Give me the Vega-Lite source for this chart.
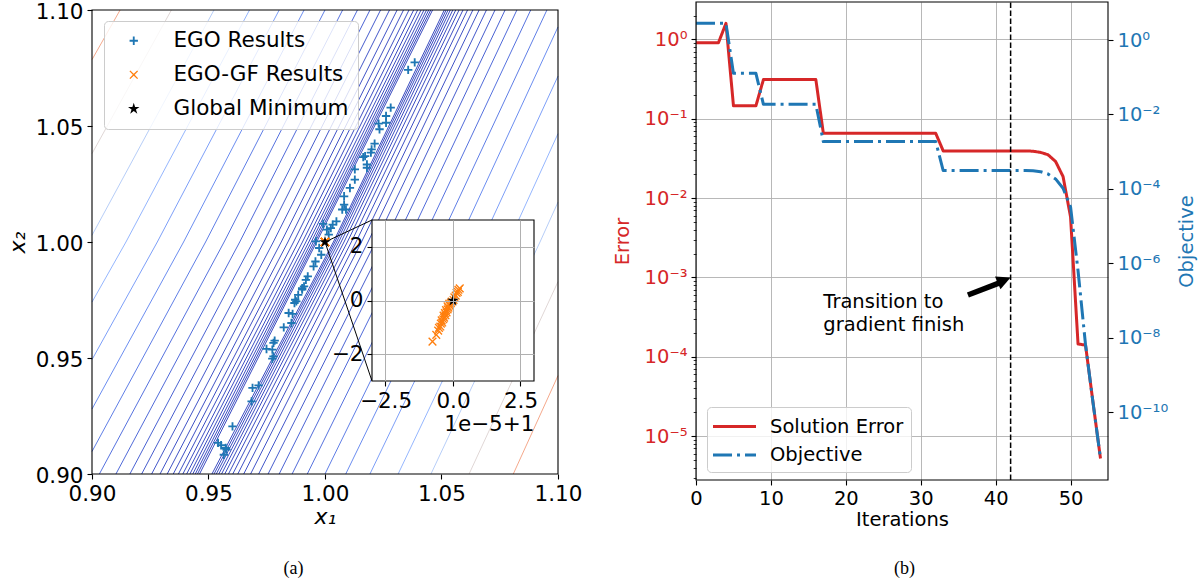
{
"$schema": "https://vega.github.io/schema/vega-lite/v6.json",
"width": 1201, "height": 585, "autosize": "none", "padding": 0, "background": "white",
"config": {
  "view": {"stroke": null},
  "font": "DejaVu Sans",
  "axis": {"domain": false, "grid": false, "tickColor": "#000", "tickWidth": 1.1, "tickSize": 5, "labelColor": "#000", "labelFont": "DejaVu Sans", "titleFont": "DejaVu Sans", "titleFontWeight": "normal", "titleColor": "#000", "labelPadding": 4, "labelFlush": false, "labelOverlap": false, "labelBound": false},
  "legend": {"labelFont": "DejaVu Sans", "labelColor": "#000", "labelLimit": 0}
},
"datasets": {
  "contours": [
    {"c":"L6","f":7.1969,"x":0.9,"y":1.0786},{"c":"L6","f":7.1969,"x":0.91207,"y":1.1},
    {"c":"L5","f":5.1795,"x":0.9,"y":1.0381},{"c":"L5","f":5.1795,"x":0.93408,"y":1.1},
    {"c":"L4","f":3.7276,"x":0.9,"y":1.0029},{"c":"L4","f":3.7276,"x":0.95236,"y":1.1},
    {"c":"L3","f":2.6827,"x":0.9,"y":0.9741},{"c":"L3","f":2.6827,"x":0.91457,"y":1.0},{"c":"L3","f":2.6827,"x":0.9676,"y":1.1},
    {"c":"L2","f":1.9307,"x":0.9,"y":0.9493},{"c":"L2","f":1.9307,"x":0.92803,"y":1.0},{"c":"L2","f":1.9307,"x":0.98034,"y":1.1},
    {"c":"L1","f":1.3895,"x":0.9,"y":0.928},{"c":"L1","f":1.3895,"x":0.9393,"y":1.0},{"c":"L1","f":1.3895,"x":0.99102,"y":1.1},
    {"c":"L0","f":1.0,"x":0.9,"y":0.9097},{"c":"L0","f":1.0,"x":0.94875,"y":1.0},{"c":"L0","f":1.0,"x":1.0,"y":1.1},
    {"c":"Lm1","f":0.7197,"x":0.90317,"y":0.9},{"c":"Lm1","f":0.7197,"x":0.9567,"y":1.0},{"c":"Lm1","f":0.7197,"x":1.00756,"y":1.1},
    {"c":"Lm2","f":0.5179,"x":0.91027,"y":0.9},{"c":"Lm2","f":0.5179,"x":0.96339,"y":1.0},{"c":"Lm2","f":0.5179,"x":1.01393,"y":1.1},
    {"c":"Lm3","f":0.3728,"x":0.91626,"y":0.9},{"c":"Lm3","f":0.3728,"x":0.96904,"y":1.0},{"c":"Lm3","f":0.3728,"x":1.0193,"y":1.1},
    {"c":"Lm4","f":0.2683,"x":0.92131,"y":0.9},{"c":"Lm4","f":0.2683,"x":0.97379,"y":1.0},{"c":"Lm4","f":0.2683,"x":1.02385,"y":1.1},
    {"c":"Lm5","f":0.1931,"x":0.92559,"y":0.9},{"c":"Lm5","f":0.1931,"x":0.97781,"y":1.0},{"c":"Lm5","f":0.1931,"x":1.02769,"y":1.1},
    {"c":"Lm6","f":0.1389,"x":0.9292,"y":0.9},{"c":"Lm6","f":0.1389,"x":0.98121,"y":1.0},{"c":"Lm6","f":0.1389,"x":1.03095,"y":1.1},
    {"c":"Lm7","f":0.1,"x":0.93227,"y":0.9},{"c":"Lm7","f":0.1,"x":0.98408,"y":1.0},{"c":"Lm7","f":0.1,"x":1.03371,"y":1.1},
    {"c":"Lm8","f":0.072,"x":0.93487,"y":0.9},{"c":"Lm8","f":0.072,"x":0.98651,"y":1.0},{"c":"Lm8","f":0.072,"x":1.03606,"y":1.1},
    {"c":"Lm9","f":0.0518,"x":0.93709,"y":0.9},{"c":"Lm9","f":0.0518,"x":0.98857,"y":1.0},{"c":"Lm9","f":0.0518,"x":1.03806,"y":1.1},
    {"c":"Lm10","f":0.0373,"x":0.93899,"y":0.9},{"c":"Lm10","f":0.0373,"x":0.99031,"y":1.0},{"c":"Lm10","f":0.0373,"x":1.03976,"y":1.1},
    {"c":"Lm11","f":0.0268,"x":0.94062,"y":0.9},{"c":"Lm11","f":0.0268,"x":0.99179,"y":1.0},{"c":"Lm11","f":0.0268,"x":1.04122,"y":1.1},
    {"c":"Lm12","f":0.0193,"x":0.94202,"y":0.9},{"c":"Lm12","f":0.0193,"x":0.99303,"y":1.0},{"c":"Lm12","f":0.0193,"x":1.04248,"y":1.1},
    {"c":"Lm13","f":0.0139,"x":0.94325,"y":0.9},{"c":"Lm13","f":0.0139,"x":0.99409,"y":1.0},{"c":"Lm13","f":0.0139,"x":1.04357,"y":1.1},
    {"c":"Lm14","f":0.01,"x":0.94433,"y":0.9},{"c":"Lm14","f":0.01,"x":0.99499,"y":1.0},{"c":"Lm14","f":0.01,"x":1.04452,"y":1.1},
    {"c":"Lm15","f":0.0072,"x":0.94527,"y":0.9},{"c":"Lm15","f":0.0072,"x":0.99575,"y":1.0},{"c":"Lm15","f":0.0072,"x":1.04538,"y":1.1},
    {"c":"Lm16","f":0.0052,"x":0.94616,"y":0.9},{"c":"Lm16","f":0.0052,"x":0.9964,"y":1.0},{"c":"Lm16","f":0.0052,"x":1.04617,"y":1.1},
    {"c":"R6","f":7.1969,"x":1.08081,"y":0.9},{"c":"R6","f":7.1969,"x":1.1,"y":0.9424},
    {"c":"R5","f":5.1795,"x":1.06184,"y":0.9},{"c":"R5","f":5.1795,"x":1.1,"y":0.9829},
    {"c":"R4","f":3.7276,"x":1.04548,"y":0.9},{"c":"R4","f":3.7276,"x":1.09228,"y":1.0},{"c":"R4","f":3.7276,"x":1.1,"y":1.0172},
    {"c":"R3","f":2.6827,"x":1.03138,"y":0.9},{"c":"R3","f":2.6827,"x":1.07879,"y":1.0},{"c":"R3","f":2.6827,"x":1.1,"y":1.0467},
    {"c":"R2","f":1.9307,"x":1.01929,"y":0.9},{"c":"R2","f":1.9307,"x":1.06722,"y":1.0},{"c":"R2","f":1.9307,"x":1.1,"y":1.0715},
    {"c":"R1","f":1.3895,"x":1.0089,"y":0.9},{"c":"R1","f":1.3895,"x":1.0573,"y":1.0},{"c":"R1","f":1.3895,"x":1.1,"y":1.0927},
    {"c":"R0","f":1.0,"x":1.0,"y":0.9},{"c":"R0","f":1.0,"x":1.04875,"y":1.0},{"c":"R0","f":1.0,"x":1.09524,"y":1.1},
    {"c":"Rm1","f":0.7197,"x":0.99239,"y":0.9},{"c":"Rm1","f":0.7197,"x":1.04151,"y":1.0},{"c":"Rm1","f":0.7197,"x":1.08829,"y":1.1},
    {"c":"Rm2","f":0.5179,"x":0.98588,"y":0.9},{"c":"Rm2","f":0.5179,"x":1.03532,"y":1.0},{"c":"Rm2","f":0.5179,"x":1.08236,"y":1.1},
    {"c":"Rm3","f":0.3728,"x":0.98033,"y":0.9},{"c":"Rm3","f":0.3728,"x":1.03004,"y":1.0},{"c":"Rm3","f":0.3728,"x":1.07729,"y":1.1},
    {"c":"Rm4","f":0.2683,"x":0.97557,"y":0.9},{"c":"Rm4","f":0.2683,"x":1.02554,"y":1.0},{"c":"Rm4","f":0.2683,"x":1.07297,"y":1.1},
    {"c":"Rm5","f":0.1931,"x":0.97152,"y":0.9},{"c":"Rm5","f":0.1931,"x":1.02171,"y":1.0},{"c":"Rm5","f":0.1931,"x":1.06929,"y":1.1},
    {"c":"Rm6","f":0.1389,"x":0.96806,"y":0.9},{"c":"Rm6","f":0.1389,"x":1.01845,"y":1.0},{"c":"Rm6","f":0.1389,"x":1.06615,"y":1.1},
    {"c":"Rm7","f":0.1,"x":0.96511,"y":0.9},{"c":"Rm7","f":0.1,"x":1.01567,"y":1.0},{"c":"Rm7","f":0.1,"x":1.06347,"y":1.1},
    {"c":"Rm8","f":0.072,"x":0.96258,"y":0.9},{"c":"Rm8","f":0.072,"x":1.01331,"y":1.0},{"c":"Rm8","f":0.072,"x":1.06118,"y":1.1},
    {"c":"Rm9","f":0.0518,"x":0.96042,"y":0.9},{"c":"Rm9","f":0.0518,"x":1.0113,"y":1.0},{"c":"Rm9","f":0.0518,"x":1.05923,"y":1.1},
    {"c":"Rm10","f":0.0373,"x":0.95857,"y":0.9},{"c":"Rm10","f":0.0373,"x":1.0096,"y":1.0},{"c":"Rm10","f":0.0373,"x":1.05755,"y":1.1},
    {"c":"Rm11","f":0.0268,"x":0.95698,"y":0.9},{"c":"Rm11","f":0.0268,"x":1.00815,"y":1.0},{"c":"Rm11","f":0.0268,"x":1.05611,"y":1.1},
    {"c":"Rm12","f":0.0193,"x":0.9556,"y":0.9},{"c":"Rm12","f":0.0193,"x":1.00692,"y":1.0},{"c":"Rm12","f":0.0193,"x":1.05486,"y":1.1},
    {"c":"Rm13","f":0.0139,"x":0.95441,"y":0.9},{"c":"Rm13","f":0.0139,"x":1.00588,"y":1.0},{"c":"Rm13","f":0.0139,"x":1.05378,"y":1.1},
    {"c":"Rm14","f":0.01,"x":0.95335,"y":0.9},{"c":"Rm14","f":0.01,"x":1.00499,"y":1.0},{"c":"Rm14","f":0.01,"x":1.05283,"y":1.1},
    {"c":"Rm15","f":0.0072,"x":0.95238,"y":0.9},{"c":"Rm15","f":0.0072,"x":1.00423,"y":1.0},{"c":"Rm15","f":0.0072,"x":1.05199,"y":1.1},
    {"c":"Rm16","f":0.0052,"x":0.95147,"y":0.9},{"c":"Rm16","f":0.0052,"x":1.0036,"y":1.0},{"c":"Rm16","f":0.0052,"x":1.05121,"y":1.1}
  ],
  "pts": [
    {"s":"EGO Results","x":1.0385,"y":1.0774},{"s":"EGO Results","x":1.0357,"y":1.0742},{"s":"EGO Results","x":1.0282,"y":1.0579},
    {"s":"EGO Results","x":1.0262,"y":1.0543},{"s":"EGO Results","x":1.0262,"y":1.0514},{"s":"EGO Results","x":1.023,"y":1.051},
    {"s":"EGO Results","x":1.0234,"y":1.0486},{"s":"EGO Results","x":1.0213,"y":1.0424},{"s":"EGO Results","x":1.02,"y":1.0399},
    {"s":"EGO Results","x":1.0197,"y":1.0385},{"s":"EGO Results","x":1.0172,"y":1.037},{"s":"EGO Results","x":1.0164,"y":1.0366},
    {"s":"EGO Results","x":1.018,"y":1.0334},{"s":"EGO Results","x":1.018,"y":1.032},{"s":"EGO Results","x":1.0128,"y":1.0313},
    {"s":"EGO Results","x":1.0128,"y":1.0269},{"s":"EGO Results","x":1.0107,"y":1.0233},{"s":"EGO Results","x":1.0082,"y":1.0197},
    {"s":"EGO Results","x":1.0082,"y":1.0161},{"s":"EGO Results","x":1.009,"y":1.014},{"s":"EGO Results","x":1.0074,"y":1.014},
    {"s":"EGO Results","x":1.0049,"y":1.0089},{"s":"EGO Results","x":1.0033,"y":1.0075},{"s":"EGO Results","x":1.0025,"y":1.006},
    {"s":"EGO Results","x":1.0008,"y":1.0053},{"s":"EGO Results","x":0.9992,"y":1.0078},{"s":"EGO Results","x":1.0016,"y":1.0032},
    {"s":"EGO Results","x":0.9961,"y":1.0003},{"s":"EGO Results","x":0.9975,"y":0.9974},{"s":"EGO Results","x":0.9984,"y":0.9945},
    {"s":"EGO Results","x":0.9959,"y":0.9916},{"s":"EGO Results","x":0.9951,"y":0.9895},{"s":"EGO Results","x":0.9926,"y":0.9852},
    {"s":"EGO Results","x":0.9918,"y":0.9837},{"s":"EGO Results","x":0.9902,"y":0.9801},{"s":"EGO Results","x":0.9885,"y":0.9772},
    {"s":"EGO Results","x":0.991,"y":0.9809},{"s":"EGO Results","x":0.9902,"y":0.9795},{"s":"EGO Results","x":0.9872,"y":0.9751},
    {"s":"EGO Results","x":0.9877,"y":0.9744},{"s":"EGO Results","x":0.9869,"y":0.9737},{"s":"EGO Results","x":0.9844,"y":0.9694},
    {"s":"EGO Results","x":0.9861,"y":0.969},{"s":"EGO Results","x":0.9856,"y":0.9651},{"s":"EGO Results","x":0.9823,"y":0.9632},
    {"s":"EGO Results","x":0.9784,"y":0.9575},{"s":"EGO Results","x":0.9779,"y":0.9565},{"s":"EGO Results","x":0.9749,"y":0.9539},
    {"s":"EGO Results","x":0.9774,"y":0.9536},{"s":"EGO Results","x":0.9779,"y":0.9507},{"s":"EGO Results","x":0.9774,"y":0.9497},
    {"s":"EGO Results","x":0.9715,"y":0.9382},{"s":"EGO Results","x":0.9689,"y":0.9371},{"s":"EGO Results","x":0.9685,"y":0.9313},
    {"s":"EGO Results","x":0.9603,"y":0.9205},{"s":"EGO Results","x":0.9541,"y":0.9134},{"s":"EGO Results","x":0.9554,"y":0.9124},
    {"s":"EGO Results","x":0.9574,"y":0.9112},{"s":"EGO Results","x":0.9577,"y":0.9105},{"s":"EGO Results","x":0.9566,"y":0.9083},
    {"s":"EGO-GF Results","x":0.9999924,"y":0.9999847},{"s":"EGO-GF Results","x":0.9999938,"y":0.9999872},{"s":"EGO-GF Results","x":0.9999945,"y":0.9999888},
    {"s":"EGO-GF Results","x":0.9999948,"y":0.9999898},{"s":"EGO-GF Results","x":0.9999953,"y":0.9999903},{"s":"EGO-GF Results","x":0.9999955,"y":0.9999914},
    {"s":"EGO-GF Results","x":0.999996,"y":0.9999918},{"s":"EGO-GF Results","x":0.9999958,"y":0.9999926},{"s":"EGO-GF Results","x":0.9999964,"y":0.999993},
    {"s":"EGO-GF Results","x":0.9999967,"y":0.9999936},{"s":"EGO-GF Results","x":0.9999965,"y":0.9999944},{"s":"EGO-GF Results","x":0.9999972,"y":0.9999945},
    {"s":"EGO-GF Results","x":0.999997,"y":0.9999953},{"s":"EGO-GF Results","x":0.9999976,"y":0.9999956},{"s":"EGO-GF Results","x":0.9999974,"y":0.9999964},
    {"s":"EGO-GF Results","x":0.999998,"y":0.9999967},{"s":"EGO-GF Results","x":0.9999983,"y":0.9999973},{"s":"EGO-GF Results","x":0.999998,"y":0.9999978},
    {"s":"EGO-GF Results","x":0.9999988,"y":0.999998},{"s":"EGO-GF Results","x":0.9999986,"y":0.9999988},{"s":"EGO-GF Results","x":0.9999992,"y":0.999999},
    {"s":"EGO-GF Results","x":0.9999995,"y":0.9999996},{"s":"EGO-GF Results","x":1.0000002,"y":1.0000002},{"s":"EGO-GF Results","x":1.0000005,"y":1.0000012},
    {"s":"EGO-GF Results","x":1.000001,"y":1.0000018},{"s":"EGO-GF Results","x":1.0000013,"y":1.0000028},{"s":"EGO-GF Results","x":1.0000018,"y":1.0000032},
    {"s":"EGO-GF Results","x":1.000002,"y":1.000004},{"s":"EGO-GF Results","x":1.0000025,"y":1.0000045},
    {"s":"Global Minimum","x":1.0,"y":1.0}
  ],
  "conv": [
    {"it":0,"s":"Solution Error","v":0.91},{"it":1,"s":"Solution Error","v":0.91},{"it":2,"s":"Solution Error","v":0.91},{"it":3,"s":"Solution Error","v":0.91},
    {"it":4,"s":"Solution Error","v":1.6},{"it":5,"s":"Solution Error","v":0.146},{"it":6,"s":"Solution Error","v":0.146},{"it":7,"s":"Solution Error","v":0.146},
    {"it":8,"s":"Solution Error","v":0.146},{"it":9,"s":"Solution Error","v":0.312},{"it":10,"s":"Solution Error","v":0.312},{"it":11,"s":"Solution Error","v":0.312},
    {"it":12,"s":"Solution Error","v":0.312},{"it":13,"s":"Solution Error","v":0.312},{"it":14,"s":"Solution Error","v":0.312},{"it":15,"s":"Solution Error","v":0.312},
    {"it":16,"s":"Solution Error","v":0.312},{"it":17,"s":"Solution Error","v":0.0657},{"it":18,"s":"Solution Error","v":0.0657},{"it":19,"s":"Solution Error","v":0.0657},
    {"it":20,"s":"Solution Error","v":0.0657},{"it":21,"s":"Solution Error","v":0.0657},{"it":22,"s":"Solution Error","v":0.0657},{"it":23,"s":"Solution Error","v":0.0657},
    {"it":24,"s":"Solution Error","v":0.0657},{"it":25,"s":"Solution Error","v":0.0657},{"it":26,"s":"Solution Error","v":0.0657},{"it":27,"s":"Solution Error","v":0.0657},
    {"it":28,"s":"Solution Error","v":0.0657},{"it":29,"s":"Solution Error","v":0.0657},{"it":30,"s":"Solution Error","v":0.0657},{"it":31,"s":"Solution Error","v":0.0657},
    {"it":32,"s":"Solution Error","v":0.0657},{"it":33,"s":"Solution Error","v":0.0394},{"it":34,"s":"Solution Error","v":0.0394},{"it":35,"s":"Solution Error","v":0.0394},
    {"it":36,"s":"Solution Error","v":0.0394},{"it":37,"s":"Solution Error","v":0.0394},{"it":38,"s":"Solution Error","v":0.0394},{"it":39,"s":"Solution Error","v":0.0394},
    {"it":40,"s":"Solution Error","v":0.0394},{"it":41,"s":"Solution Error","v":0.0394},{"it":42,"s":"Solution Error","v":0.0394},{"it":43,"s":"Solution Error","v":0.0394},
    {"it":44,"s":"Solution Error","v":0.0394},{"it":45,"s":"Solution Error","v":0.039},{"it":46,"s":"Solution Error","v":0.0377},{"it":47,"s":"Solution Error","v":0.0352},
    {"it":48,"s":"Solution Error","v":0.029},{"it":49,"s":"Solution Error","v":0.0187},{"it":50,"s":"Solution Error","v":0.0058},{"it":51,"s":"Solution Error","v":0.000145},
    {"it":52,"s":"Solution Error","v":0.00014},{"it":53,"s":"Solution Error","v":0.0000265},{"it":54,"s":"Solution Error","v":0.0000052},
    {"it":0,"s":"Objective","v":2.8},{"it":1,"s":"Objective","v":2.8},{"it":2,"s":"Objective","v":2.8},{"it":3,"s":"Objective","v":2.8},
    {"it":4,"s":"Objective","v":2.8},{"it":5,"s":"Objective","v":0.127},{"it":6,"s":"Objective","v":0.127},{"it":7,"s":"Objective","v":0.127},
    {"it":8,"s":"Objective","v":0.127},{"it":9,"s":"Objective","v":0.0187},{"it":10,"s":"Objective","v":0.0187},{"it":11,"s":"Objective","v":0.0187},
    {"it":12,"s":"Objective","v":0.0187},{"it":13,"s":"Objective","v":0.0187},{"it":14,"s":"Objective","v":0.0187},{"it":15,"s":"Objective","v":0.0187},
    {"it":16,"s":"Objective","v":0.0187},{"it":17,"s":"Objective","v":0.00186},{"it":18,"s":"Objective","v":0.00186},{"it":19,"s":"Objective","v":0.00186},
    {"it":20,"s":"Objective","v":0.00186},{"it":21,"s":"Objective","v":0.00186},{"it":22,"s":"Objective","v":0.00186},{"it":23,"s":"Objective","v":0.00186},
    {"it":24,"s":"Objective","v":0.00186},{"it":25,"s":"Objective","v":0.00186},{"it":26,"s":"Objective","v":0.00186},{"it":27,"s":"Objective","v":0.00186},
    {"it":28,"s":"Objective","v":0.00186},{"it":29,"s":"Objective","v":0.00186},{"it":30,"s":"Objective","v":0.00186},{"it":31,"s":"Objective","v":0.00186},
    {"it":32,"s":"Objective","v":0.00186},{"it":33,"s":"Objective","v":0.00031},{"it":34,"s":"Objective","v":0.00031},{"it":35,"s":"Objective","v":0.00031},
    {"it":36,"s":"Objective","v":0.00031},{"it":37,"s":"Objective","v":0.00031},{"it":38,"s":"Objective","v":0.00031},{"it":39,"s":"Objective","v":0.00031},
    {"it":40,"s":"Objective","v":0.00031},{"it":41,"s":"Objective","v":0.00031},{"it":42,"s":"Objective","v":0.00031},{"it":43,"s":"Objective","v":0.00031},
    {"it":44,"s":"Objective","v":0.00031},{"it":45,"s":"Objective","v":0.000305},{"it":46,"s":"Objective","v":0.00029},{"it":47,"s":"Objective","v":0.00025},
    {"it":48,"s":"Objective","v":0.000185},{"it":49,"s":"Objective","v":0.000104},{"it":50,"s":"Objective","v":0.000033},{"it":51,"s":"Objective","v":6.3e-7},
    {"it":52,"s":"Objective","v":6.5e-9},{"it":53,"s":"Objective","v":1.8e-10},{"it":54,"s":"Objective","v":5.6e-12}
  ]
},
"layer": [
  {
    "data": {"name": "contours"},
    "mark": {"type": "line", "strokeWidth": 1},
    "encoding": {
      "x": {"field": "x", "type": "quantitative", "scale": {"domain": [0.9, 1.1], "range": [92, 558], "nice": false, "zero": false},
            "axis": {"orient": "bottom", "offset": -111, "values": [0.9, 0.95, 1.0, 1.05, 1.1], "format": ".2f", "labelFontSize": 21.5, "title": "x₁", "titleFontSize": 22, "titleFontStyle": "italic", "titlePadding": 2}},
      "y": {"field": "y", "type": "quantitative", "scale": {"domain": [0.9, 1.1], "range": [474, 10], "nice": false, "zero": false},
            "axis": {"orient": "left", "offset": -92, "values": [0.9, 0.95, 1.0, 1.05, 1.1], "format": ".2f", "labelFontSize": 21.5, "labelOffset": 2.5, "title": "x₂", "titleFontSize": 22, "titleFontStyle": "italic", "titlePadding": 6}},
      "detail": {"field": "c", "type": "nominal"},
      "order": {"field": "y", "type": "quantitative"},
      "color": {"field": "f", "type": "quantitative", "legend": null,
                "scale": {"domain": [0, 0.5, 1.5, 2.5, 3.5, 4.5, 5.5, 6.5, 7.5, 8.5, 9.5, 10], "range": ["#3b4cc0", "#4f69d9", "#6f92f3", "#8fb1fe", "#b0cbfc", "#cfdaea", "#e8d6cc", "#f6bfa6", "#f59f80", "#e67259", "#cc403a", "#b40426"], "interpolate": "rgb"}}
    }
  },
  {
    "data": {"values": [{}]},
    "mark": {"type": "rect", "fill": "transparent", "stroke": "#000", "strokeWidth": 1.1},
    "encoding": {
      "x": {"datum": 0.9, "type": "quantitative", "scale": {"domain": [0.9, 1.1], "range": [92, 558], "nice": false, "zero": false},
            "axis": {"orient": "bottom", "offset": -111, "ticks": false, "labels": false, "title": "(a)", "titleFont": "Liberation Serif", "titleFontSize": 18, "titleX": 293, "titleY": 94, "titleAlign": "center", "titleBaseline": "middle"}},
      "x2": {"datum": 1.1},
      "y": {"datum": 0.9, "type": "quantitative", "scale": {"domain": [0.9, 1.1], "range": [474, 10], "nice": false, "zero": false}, "axis": null},
      "y2": {"datum": 1.1}
    }
  },
  {
    "data": {"values": [{}]},
    "mark": {"type": "rule", "color": "#000", "strokeWidth": 1},
    "encoding": {
      "x": {"datum": 1.0, "type": "quantitative", "scale": {"domain": [0.9, 1.1], "range": [92, 558], "nice": false, "zero": false}, "axis": null},
      "y": {"datum": 1.0, "type": "quantitative", "scale": {"domain": [0.9, 1.1], "range": [474, 10], "nice": false, "zero": false}, "axis": null},
      "x2": {"datum": 1.02017}, "y2": {"datum": 1.00948}
    }
  },
  {
    "data": {"values": [{}]},
    "mark": {"type": "rule", "color": "#000", "strokeWidth": 1},
    "encoding": {
      "x": {"datum": 1.0, "type": "quantitative", "scale": {"domain": [0.9, 1.1], "range": [92, 558], "nice": false, "zero": false}, "axis": null},
      "y": {"datum": 1.0, "type": "quantitative", "scale": {"domain": [0.9, 1.1], "range": [474, 10], "nice": false, "zero": false}, "axis": null},
      "x2": {"datum": 1.02017}, "y2": {"datum": 0.94009}
    }
  },
  {
    "data": {"name": "pts"},
    "mark": {"type": "point", "filled": true, "opacity": 1, "strokeWidth": 0},
    "encoding": {
      "x": {"field": "x", "type": "quantitative", "scale": {"domain": [0.9, 1.1], "range": [92, 558], "nice": false, "zero": false}, "axis": null},
      "y": {"field": "y", "type": "quantitative", "scale": {"domain": [0.9, 1.1], "range": [474, 10], "nice": false, "zero": false}, "axis": null},
      "color": {"field": "s", "type": "nominal",
                "scale": {"domain": ["EGO Results", "EGO-GF Results", "Global Minimum"], "range": ["#1f77b4", "#ff7f0e", "#000000"]},
                "legend": {"title": null, "orient": "none", "legendX": 104, "legendY": 21, "fillColor": "rgba(255,255,255,0.8)", "strokeColor": "#cccccc", "cornerRadius": 4, "padding": 9, "labelFontSize": 21.5, "labelLimit": 0, "symbolSize": 90, "rowPadding": 11, "symbolOffset": 10, "labelOffset": 29, "symbolStrokeWidth": 0}},
      "shape": {"field": "s", "type": "nominal",
                "scale": {"domain": ["EGO Results", "EGO-GF Results", "Global Minimum"], "range": ["M-1,-0.22L-0.22,-0.22L-0.22,-1L0.22,-1L0.22,-0.22L1,-0.22L1,0.22L0.22,0.22L0.22,1L-0.22,1L-0.22,0.22L-1,0.22Z", "M-1,-0.78L-0.78,-1L0,-0.22L0.78,-1L1,-0.78L0.22,0L1,0.78L0.78,1L0,0.22L-0.78,1L-1,0.78L-0.22,0Z", "M0,-1.35L0.303,-0.417L1.284,-0.417L0.49,0.159L0.794,1.092L0,0.516L-0.794,1.092L-0.49,0.159L-1.284,-0.417L-0.303,-0.417Z"]},
                "legend": {"title": null, "orient": "none", "legendX": 104, "legendY": 21, "fillColor": "rgba(255,255,255,0.8)", "strokeColor": "#cccccc", "cornerRadius": 4, "padding": 9, "labelFontSize": 21.5, "labelLimit": 0, "symbolSize": 90, "rowPadding": 11, "symbolOffset": 10, "labelOffset": 29, "symbolStrokeWidth": 0}},
      "size": {"field": "s", "type": "ordinal", "scale": {"domain": ["EGO Results", "EGO-GF Results", "Global Minimum"], "range": [70, 80, 120]}, "legend": null}
    }
  },
  {
    "data": {"values": [{}]},
    "mark": {"type": "rect", "fill": "white", "stroke": "#000", "strokeWidth": 1.1},
    "encoding": {
      "x": {"datum": 0.99997, "type": "quantitative", "scale": {"domain": [0.99997, 1.00003], "range": [372, 534], "nice": false, "zero": false},
            "axis": {"orient": "top", "offset": -220, "values": [0.999975, 1.0, 1.000025], "ticks": false, "labels": false, "grid": true, "gridColor": "#b0b0b0", "gridWidth": 1, "zindex": 1, "title": null}},
      "x2": {"datum": 1.00003},
      "y": {"datum": 0.99997, "type": "quantitative", "scale": {"domain": [0.99997, 1.00003], "range": [381, 220], "nice": false, "zero": false}, "axis": null},
      "y2": {"datum": 1.00003}
    }
  },
  {
    "data": {"name": "pts"},
    "transform": [{"filter": "datum.s != 'EGO Results'"}],
    "mark": {"type": "point", "filled": true, "opacity": 1, "strokeWidth": 0},
    "encoding": {
      "x": {"field": "x", "type": "quantitative", "scale": {"domain": [0.99997, 1.00003], "range": [372, 534], "nice": false, "zero": false},
            "axis": {"orient": "bottom", "offset": -204, "values": [0.999975, 1.0, 1.000025], "labelExpr": "format((datum.value - 1) * 100000, '.1f')", "labelFontSize": 21.5, "zindex": 1, "grid": false, "title": "1e−5+1", "titleFontSize": 21.5, "titleAnchor": "end", "titleAlign": "right", "titlePadding": 2}},
      "y": {"field": "y", "type": "quantitative", "scale": {"domain": [0.99997, 1.00003], "range": [381, 220], "nice": false, "zero": false},
            "axis": {"orient": "left", "offset": -372, "values": [0.99998, 1.0, 1.00002], "labelExpr": "format((datum.value - 1) * 100000, '.0f')", "labelFontSize": 21.5, "zindex": 1, "grid": true, "gridColor": "#b0b0b0", "gridWidth": 1, "title": null}},
      "color": {"field": "s", "type": "nominal", "scale": {"domain": ["EGO Results", "EGO-GF Results", "Global Minimum"], "range": ["#1f77b4", "#ff7f0e", "#000000"]}, "legend": null},
      "shape": {"field": "s", "type": "nominal",
                "scale": {"domain": ["EGO Results", "EGO-GF Results", "Global Minimum"], "range": ["M-1,-0.22L-0.22,-0.22L-0.22,-1L0.22,-1L0.22,-0.22L1,-0.22L1,0.22L0.22,0.22L0.22,1L-0.22,1L-0.22,0.22L-1,0.22Z", "M-1,-0.78L-0.78,-1L0,-0.22L0.78,-1L1,-0.78L0.22,0L1,0.78L0.78,1L0,0.22L-0.78,1L-1,0.78L-0.22,0Z", "M0,-1.35L0.303,-0.417L1.284,-0.417L0.49,0.159L0.794,1.092L0,0.516L-0.794,1.092L-0.49,0.159L-1.284,-0.417L-0.303,-0.417Z"]}, "legend": null},
      "size": {"field": "s", "type": "ordinal", "scale": {"domain": ["EGO Results", "EGO-GF Results", "Global Minimum"], "range": [70, 80, 90]}, "legend": null}
    }
  },
  {
    "data": {"name": "conv"},
    "layer": [
      {
        "transform": [{"filter": "datum.s == 'Solution Error'"}],
        "mark": {"type": "line", "strokeWidth": 3, "strokeJoin": "round"},
        "encoding": {
          "x": {"field": "it", "type": "quantitative", "scale": {"domain": [0, 55], "range": [696, 1108], "nice": false, "zero": false},
                "axis": {"orient": "bottom", "offset": -105, "values": [0, 10, 20, 30, 40, 50], "labelFontSize": 19.5, "title": "Iterations", "titleFontSize": 19.5, "titlePadding": 3, "grid": false}},
          "y": {"field": "v", "type": "quantitative", "scale": {"type": "log", "domain": [2.79e-6, 2.97], "range": [480, 2], "nice": false},
                "axis": {"orient": "left", "offset": -696,
                         "values": [3e-6, 4e-6, 5e-6, 6e-6, 7e-6, 8e-6, 9e-6, 1e-5, 2e-5, 3e-5, 4e-5, 5e-5, 6e-5, 7e-5, 8e-5, 9e-5, 1e-4, 2e-4, 3e-4, 4e-4, 5e-4, 6e-4, 7e-4, 8e-4, 9e-4, 0.001, 0.002, 0.003, 0.004, 0.005, 0.006, 0.007, 0.008, 0.009, 0.01, 0.02, 0.03, 0.04, 0.05, 0.06, 0.07, 0.08, 0.09, 0.1, 0.2, 0.3, 0.4, 0.5, 0.6, 0.7, 0.8, 0.9, 1, 2],
                         "labelExpr": "abs(log(datum.value)/LN10 - round(log(datum.value)/LN10)) < 0.001 ? '10' + (log(datum.value)/LN10 < -0.5 ? '⁻' : '') + (abs(round(log(datum.value)/LN10)) >= 10 ? '¹' : '') + ['⁰','¹','²','³','⁴','⁵','⁶','⁷','⁸','⁹'][abs(round(log(datum.value)/LN10)) % 10] : ''",
                         "labelFontSize": 19.5, "labelColor": "#d62728", "title": "Error", "titleColor": "#d62728", "titleFontSize": 19.5, "titlePadding": 12,
                         "grid": true, "gridColor": "#b0b0b0", "gridWidth": 0.9,
                         "gridOpacity": {"condition": {"test": "abs(log(datum.value)/LN10 - round(log(datum.value)/LN10)) < 0.001", "value": 1}, "value": 0},
                         "tickSize": {"condition": {"test": "abs(log(datum.value)/LN10 - round(log(datum.value)/LN10)) < 0.001", "value": 5}, "value": 2.8},
                         "tickWidth": {"condition": {"test": "abs(log(datum.value)/LN10 - round(log(datum.value)/LN10)) < 0.001", "value": 1.1}, "value": 0.8}}},
          "color": {"field": "s", "type": "nominal", "scale": {"domain": ["Solution Error", "Objective"], "range": ["#d62728", "#1f77b4"]},
                    "legend": {"title": null, "orient": "none", "legendX": 707, "legendY": 407, "fillColor": "rgba(255,255,255,0.8)", "strokeColor": "#cccccc", "cornerRadius": 4, "padding": 7, "labelFontSize": 19.5, "labelLimit": 0, "symbolType": "M-2,0L2,0", "symbolSize": 462, "symbolStrokeWidth": 3, "rowPadding": 6.5, "symbolOffset": 8, "labelOffset": 23}},
          "strokeDash": {"field": "s", "type": "nominal", "scale": {"domain": ["Solution Error", "Objective"], "range": [[1, 0], [19, 5, 3, 5]]},
                    "legend": {"title": null, "orient": "none", "legendX": 707, "legendY": 407, "fillColor": "rgba(255,255,255,0.8)", "strokeColor": "#cccccc", "cornerRadius": 4, "padding": 7, "labelFontSize": 19.5, "labelLimit": 0, "symbolType": "M-2,0L2,0", "symbolSize": 462, "symbolStrokeWidth": 3, "rowPadding": 6.5, "symbolOffset": 8, "labelOffset": 23}}
        }
      },
      {
        "transform": [{"filter": "datum.s == 'Objective'"}],
        "mark": {"type": "line", "strokeWidth": 3, "strokeJoin": "round"},
        "encoding": {
          "x": {"field": "it", "type": "quantitative", "scale": {"domain": [0, 55], "range": [696, 1108], "nice": false, "zero": false}, "axis": null},
          "y": {"field": "v", "type": "quantitative", "scale": {"type": "log", "domain": [1.5e-12, 10.5], "range": [480, 2], "nice": false},
                "axis": {"orient": "right", "offset": -93, "values": [1, 0.01, 1e-4, 1e-6, 1e-8, 1e-10],
                         "labelExpr": "'10' + (log(datum.value)/LN10 < -0.5 ? '⁻' : '') + (abs(round(log(datum.value)/LN10)) >= 10 ? '¹' : '') + ['⁰','¹','²','³','⁴','⁵','⁶','⁷','⁸','⁹'][abs(round(log(datum.value)/LN10)) % 10]",
                         "labelFontSize": 19.5, "labelColor": "#1f77b4", "title": "Objective", "titleColor": "#1f77b4", "titleFontSize": 19.5, "titleAngle": 270, "titleBaseline": "top", "titlePadding": 10, "grid": false}},
          "color": {"field": "s", "type": "nominal", "scale": {"domain": ["Solution Error", "Objective"], "range": ["#d62728", "#1f77b4"]},
                    "legend": {"title": null, "orient": "none", "legendX": 707, "legendY": 407, "fillColor": "rgba(255,255,255,0.8)", "strokeColor": "#cccccc", "cornerRadius": 4, "padding": 7, "labelFontSize": 19.5, "labelLimit": 0, "symbolType": "M-2,0L2,0", "symbolSize": 462, "symbolStrokeWidth": 3, "rowPadding": 6.5, "symbolOffset": 8, "labelOffset": 23}},
          "strokeDash": {"field": "s", "type": "nominal", "scale": {"domain": ["Solution Error", "Objective"], "range": [[1, 0], [19, 5, 3, 5]]},
                    "legend": {"title": null, "orient": "none", "legendX": 707, "legendY": 407, "fillColor": "rgba(255,255,255,0.8)", "strokeColor": "#cccccc", "cornerRadius": 4, "padding": 7, "labelFontSize": 19.5, "labelLimit": 0, "symbolType": "M-2,0L2,0", "symbolSize": 462, "symbolStrokeWidth": 3, "rowPadding": 6.5, "symbolOffset": 8, "labelOffset": 23}}
        }
      }
    ],
    "resolve": {"scale": {"x": "independent", "y": "independent"}, "axis": {"x": "independent", "y": "independent"}}
  },
  {
    "data": {"values": [{}]},
    "mark": {"type": "rule", "color": "#000", "strokeWidth": 1.5, "strokeDash": [5.5, 2.5]},
    "encoding": {
      "x": {"datum": 42, "type": "quantitative", "scale": {"domain": [0, 55], "range": [696, 1108], "nice": false, "zero": false},
            "axis": {"orient": "top", "offset": -2, "values": [0, 10, 20, 30, 40, 50], "ticks": false, "labels": false, "grid": true, "gridColor": "#b0b0b0", "gridWidth": 0.9, "title": null}},
      "y": {"datum": 2.79e-6, "type": "quantitative", "scale": {"type": "log", "domain": [2.79e-6, 2.97], "range": [480, 2], "nice": false}, "axis": null},
      "y2": {"datum": 2.97}
    }
  },
  {
    "data": {"values": [{}]},
    "mark": {"type": "rule", "color": "#000", "strokeWidth": 5.5},
    "encoding": {
      "x": {"datum": 36.3, "type": "quantitative", "scale": {"domain": [0, 55], "range": [696, 1108], "nice": false, "zero": false}, "axis": null},
      "y": {"datum": 0.0006, "type": "quantitative", "scale": {"type": "log", "domain": [2.79e-6, 2.97], "range": [480, 2], "nice": false}, "axis": null},
      "x2": {"datum": 40.6}, "y2": {"datum": 0.00086}
    }
  },
  {
    "data": {"values": [{}]},
    "mark": {"type": "point", "filled": true, "opacity": 1, "color": "#000", "strokeWidth": 0, "shape": "M0,0L-2,-1L-2,1Z", "size": 196, "angle": 337},
    "encoding": {
      "x": {"datum": 42, "type": "quantitative", "scale": {"domain": [0, 55], "range": [696, 1108], "nice": false, "zero": false}, "axis": null},
      "y": {"datum": 0.001, "type": "quantitative", "scale": {"type": "log", "domain": [2.79e-6, 2.97], "range": [480, 2], "nice": false}, "axis": null}
    }
  },
  {
    "data": {"values": [{}]},
    "mark": {"type": "text", "text": ["Transition to", "gradient finish"], "align": "left", "baseline": "top", "fontSize": 19.5, "font": "DejaVu Sans", "color": "#000", "lineHeight": 23},
    "encoding": {
      "x": {"datum": 17, "type": "quantitative", "scale": {"domain": [0, 55], "range": [696, 1108], "nice": false, "zero": false}, "axis": null},
      "y": {"datum": 0.00064, "type": "quantitative", "scale": {"type": "log", "domain": [2.79e-6, 2.97], "range": [480, 2], "nice": false}, "axis": null}
    }
  },
  {
    "data": {"values": [{}]},
    "mark": {"type": "rect", "fill": "transparent", "stroke": "#000", "strokeWidth": 1.1},
    "encoding": {
      "x": {"datum": 0, "type": "quantitative", "scale": {"domain": [0, 55], "range": [696, 1108], "nice": false, "zero": false},
            "axis": {"orient": "bottom", "offset": -105, "ticks": false, "labels": false, "grid": false, "title": "(b)", "titleFont": "Liberation Serif", "titleFontSize": 18, "titleX": 904, "titleY": 88, "titleAlign": "center", "titleBaseline": "middle"}},
      "x2": {"datum": 55},
      "y": {"datum": 2.79e-6, "type": "quantitative", "scale": {"type": "log", "domain": [2.79e-6, 2.97], "range": [480, 2], "nice": false}, "axis": null},
      "y2": {"datum": 2.97}
    }
  }
],
"resolve": {
  "scale": {"x": "independent", "y": "independent", "color": "independent", "shape": "independent", "size": "independent", "strokeDash": "independent"},
  "axis": {"x": "independent", "y": "independent"},
  "legend": {"color": "independent", "shape": "independent", "size": "independent", "strokeDash": "independent"}
}
}
